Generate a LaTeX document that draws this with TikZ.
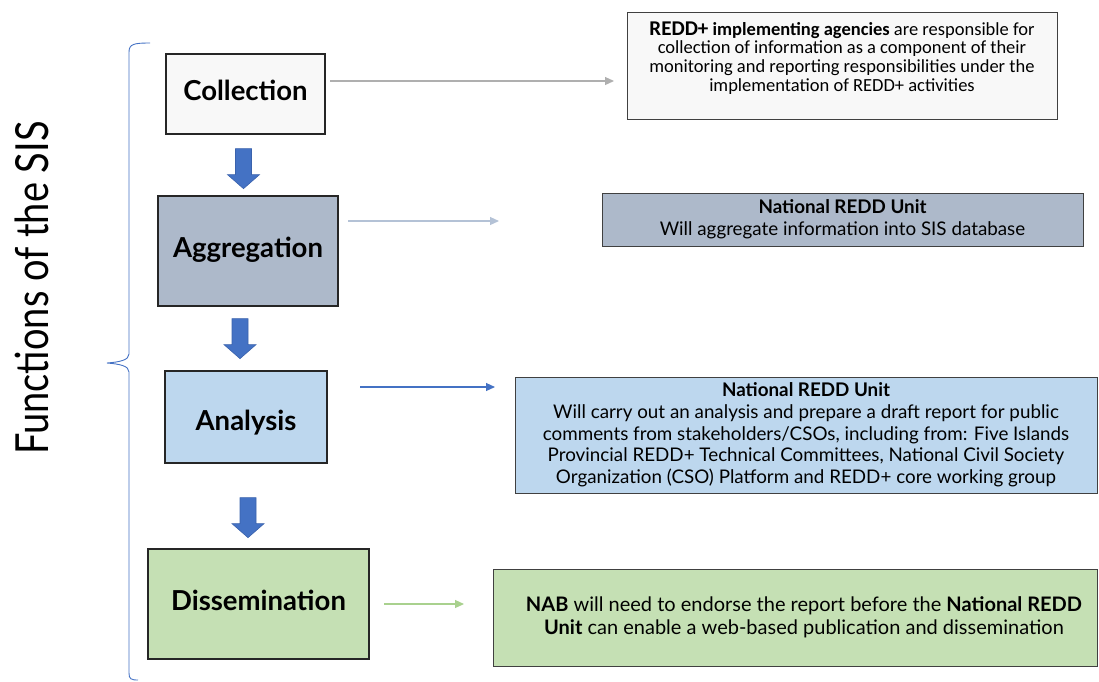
\documentclass[tikz,border=0pt]{standalone}
\usepackage{fontspec}
\setmainfont{Lato}
\newfontfamily\calibri{Carlito}
\usetikzlibrary{arrows.meta,calc}

\definecolor{collfill}{HTML}{F8F8F8}
\definecolor{aggfill}{HTML}{ADB9CA}
\definecolor{anafill}{HTML}{BDD7EE}
\definecolor{disfill}{HTML}{C5E0B4}
\definecolor{edge}{HTML}{262626}
\definecolor{infoedge}{HTML}{404040}
\definecolor{flowblue}{HTML}{4472C4}
\definecolor{flowedge}{HTML}{3A62AC}
\definecolor{greyline}{HTML}{AFAFAF}
\definecolor{slateline}{HTML}{B4C2D6}
\definecolor{greenline}{HTML}{A9D18E}

\tikzset{
  stage/.style={draw=edge, line width=1.3pt, inner sep=0pt,
    font=\bfseries\fontsize{27.5}{32}\selectfont},
  info/.style={draw=infoedge, line width=1pt, inner sep=0pt, align=center,
    font=\fontsize{18.8}{21.7}\selectfont},
  link/.style={line width=1.1pt, -{Triangle[width=8pt,length=9pt]}},
  brace/.style={draw=flowblue, line width=0.9pt},
  downarrow/.pic={
    \filldraw[fill=flowblue, draw=flowedge, line width=0.6pt]
      (-8,0) -- (8,0) -- (8,26) -- (16,26) -- (0,40) -- (-16,26) -- (-8,26) -- cycle;
  }
}

\begin{document}
\begin{tikzpicture}[x=1pt,y=-1pt]
\useasboundingbox (0,0) rectangle (1099,681);

% side title and brace
\node (title) [rotate=90, font=\fontsize{38}{44}\selectfont] at (31.5,288)
  {\scalebox{1}[1.2]{Functions of the SIS}};
\draw[brace] (150,43) .. controls (134,43) and (129,44) .. (129,52)
  -- (129,354) .. controls (129,360) and (120,362) .. (107,363)
  .. controls (120,364) and (129,366) .. (129,372)
  -- (129,673) .. controls (129,679) and (131,680) .. (138,680);

% stages of the system (labels sit slightly off the box centre)
\node (col) [stage, fill=collfill, minimum width=159, minimum height=80] at (245.5,94)
  {\raisebox{7pt}{Collection}};
\node (agg) [stage, fill=aggfill, minimum width=180, minimum height=110] at (248,251)
  {\raisebox{7pt}{Aggregation}};
\node (ana) [stage, fill=anafill, minimum width=162, minimum height=92,
  text height=32pt, text depth=6pt] at (246,417) {Analysis};
\node (dis) [stage, fill=disfill, minimum width=221, minimum height=110] at (258.5,604)
  {\raisebox{7pt}{Dissemination}};

% block arrows between stages
\pic at ($(col.south)+(-2,14)$) {downarrow};
\pic at ($(agg.south)+(-8,12)$) {downarrow};
\pic at ($(ana.south)+(2,34)$) {downarrow};

% descriptions
\node (colinfo) [info, fill=collfill, minimum width=430, minimum height=107] at (842,65.5) {};
\node (colText) [anchor=north, align=center, inner sep=0pt,
  font=\calibri\fontsize{18.5}{18.6}\selectfont] at ([yshift=-10]colinfo.north)
  {{\bfseries\fontsize{21}{18.6}\selectfont REDD+} \textbf{implementing agencies} are responsible for\\
   collection of information as a component of their\\
   monitoring and reporting responsibilities under the\\
   implementation of REDD+ activities};

\node (agginfo) [info, fill=aggfill, minimum width=481, minimum height=53] at (842.5,219.5)
  {\textbf{National REDD Unit}\\Will aggregate information into SIS database};

\node (anainfo) [info, fill=anafill, minimum width=582, minimum height=116] at (806,435)
  {\textbf{National REDD Unit}\\
   Will carry out an analysis and prepare a draft report for public\\
   comments from stakeholders/CSOs, including from: Five Islands\\
   Provincial REDD+ Technical Committees, National Civil Society\\
   Organization (CSO) Platform and REDD+ core working group};

\node (disinfo) [info, fill=disfill, minimum width=604, minimum height=97,
  font=\fontsize{20}{23}\selectfont] at (795,617.5)
  {\hspace*{18pt}\textbf{NAB} will need to endorse the report before the \textbf{National REDD}\\
   \hspace*{18pt}\textbf{Unit} can enable a web-based publication and dissemination};

% links from stages to descriptions
\coordinate (l1a) at (330,81);   \coordinate (l1b) at (614,81);
\coordinate (l2a) at (348,221);  \coordinate (l2b) at (499,221);
\coordinate (l3a) at (360,387);  \coordinate (l3b) at (495,387);
\coordinate (l4a) at (384,604);  \coordinate (l4b) at (464,604);
\draw[link, draw=greyline, fill=greyline] (l1a) -- (l1b);
\draw[link, draw=slateline, fill=slateline] (l2a) -- (l2b);
\draw[link, draw=flowblue, fill=flowblue] (l3a) -- (l3b);
\draw[link, draw=greenline, fill=greenline] (l4a) -- (l4b);
\end{tikzpicture}
\end{document}
